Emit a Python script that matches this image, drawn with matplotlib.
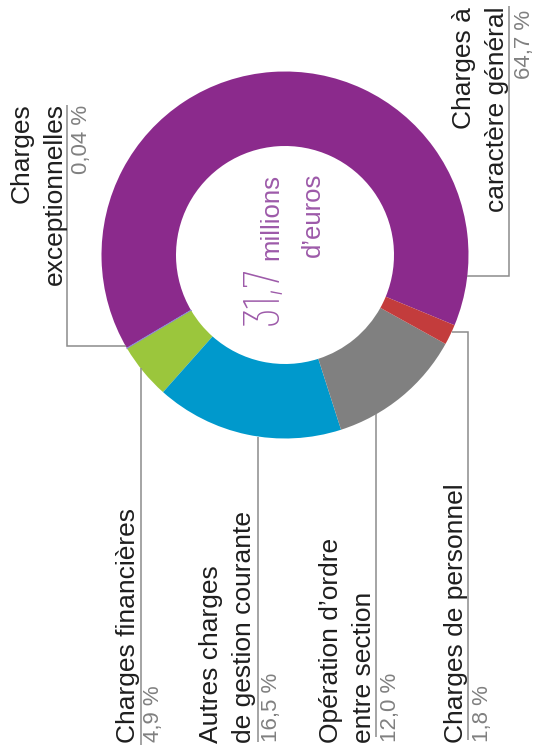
import matplotlib
matplotlib.use("Agg")
import matplotlib.pyplot as plt
import numpy as np

# ---- data ----
categories = [
    ["Charges à", "caractère général"],
    ["Charges", "exceptionnelles"],
    ["Charges financières"],
    ["Autres charges", "de gestion courante"],
    ["Opération d’ordre", "entre section"],
    ["Charges de personnel"],
]
values = [64.7, 0.04, 4.9, 16.5, 12.0, 1.8]
pct_labels = ["64,7 %", "0,04 %", "4,9 %", "16,5 %", "12,0 %", "1,8 %"]
colors = ["#8b2a8c", "#8e8ad6", "#9bc63c", "#0099cc", "#808080", "#c33c3c"]
total_value = "31,7"
total_unit = ["millions", "d’euros"]

# ---- figure ----
W_PX, H_PX = 534, 755
fig = plt.figure(figsize=(W_PX / 100, H_PX / 100), dpi=100)
ax = fig.add_axes([0, 0, 1, 1])

CX, CY = 285, 500
R_OUT, R_IN = 183.5, 109

wedges, _ = ax.pie(values, colors=colors, startangle=-22.5, counterclock=True,
                   radius=R_OUT, center=(CX, CY),
                   wedgeprops=dict(width=R_OUT - R_IN, edgecolor="none", linewidth=0))
wedges[1].set_edgecolor(colors[1])
wedges[1].set_linewidth(1.0)

ax.set_xlim(0, W_PX)
ax.set_ylim(0, H_PX)
ax.set_aspect("equal")
ax.axis("off")

LABEL_FONT = ["Liberation Sans", "DejaVu Sans"]
LABEL_COLOR = "#1e1e1e"
PCT_COLOR = "#808080"
LINE_COLOR = "#8c8c8c"
LW = 1.1

def Y(y):
    return H_PX - y

def ring_y_below(x):
    return CY - np.sqrt(R_OUT ** 2 - (x - CX) ** 2)

def ring_x_side(yd, side):
    return CX + side * np.sqrt(R_OUT ** 2 - (yd - CY) ** 2)

def rtext(x, yd, s, ha, size, color, family=LABEL_FONT, weight="normal"):
    ax.text(x, yd, s, rotation=90, rotation_mode="anchor", ha=ha, va="baseline",
            fontsize=size, color=color, family=family, fontweight=weight)

specs = [
    dict(base=[471, 504], ay=7, ha="right", pbase=530, pay=10,
         leader=("h", 276, 509, 6, +1)),
    dict(base=[29, 62], ay=103, ha="right", pbase=87, pay=105,
         leader=("h", 346, 67, 105, -1)),
    dict(base=[135], ay=743, ha="left", pbase=159, pay=742,
         leader=("v", 140.7, 745)),
    dict(base=[218, 251], ay=743, ha="left", pbase=277, pay=742,
         leader=("v", 258, 742)),
    dict(base=[338, 371], ay=743, ha="left", pbase=396, pay=742,
         leader=("v", 376, 737)),
    dict(base=[463], ay=743, ha="left", pbase=488, pay=742,
         leader=("h", 332, 468, 740, +1)),
]

for lines, pct, sp in zip(categories, pct_labels, specs):
    for ln, b in zip(lines, sp["base"]):
        rtext(b, Y(sp["ay"]), ln, sp["ha"], 19, LABEL_COLOR)
    rtext(sp["pbase"], Y(sp["pay"]), pct, sp["ha"], 16, PCT_COLOR)
    ld = sp["leader"]
    if ld[0] == "v":
        x = ld[1]
        ax.plot([x, x], [ring_y_below(x), Y(ld[2])], color=LINE_COLOR, lw=LW,
                solid_capstyle="butt")
    else:
        yd = Y(ld[1])
        xr = ring_x_side(yd, ld[4])
        ax.plot([xr, ld[2], ld[2]], [yd, yd, Y(ld[3])], color=LINE_COLOR, lw=LW,
                solid_joinstyle="miter", solid_capstyle="butt")

# centre text
CENTER_COLOR = "#9d5aa9"
rtext(278, Y(325), total_value, "left", 37, CENTER_COLOR,
      family=["Barlow Condensed", "Archivo Narrow", "Liberation Sans"], weight="light")
rtext(278, Y(260), total_unit[0], "left", 18.5, CENTER_COLOR)
rtext(320, Y(173), total_unit[1], "right", 18.5, CENTER_COLOR)

fig.savefig("out.png", dpi=100)
